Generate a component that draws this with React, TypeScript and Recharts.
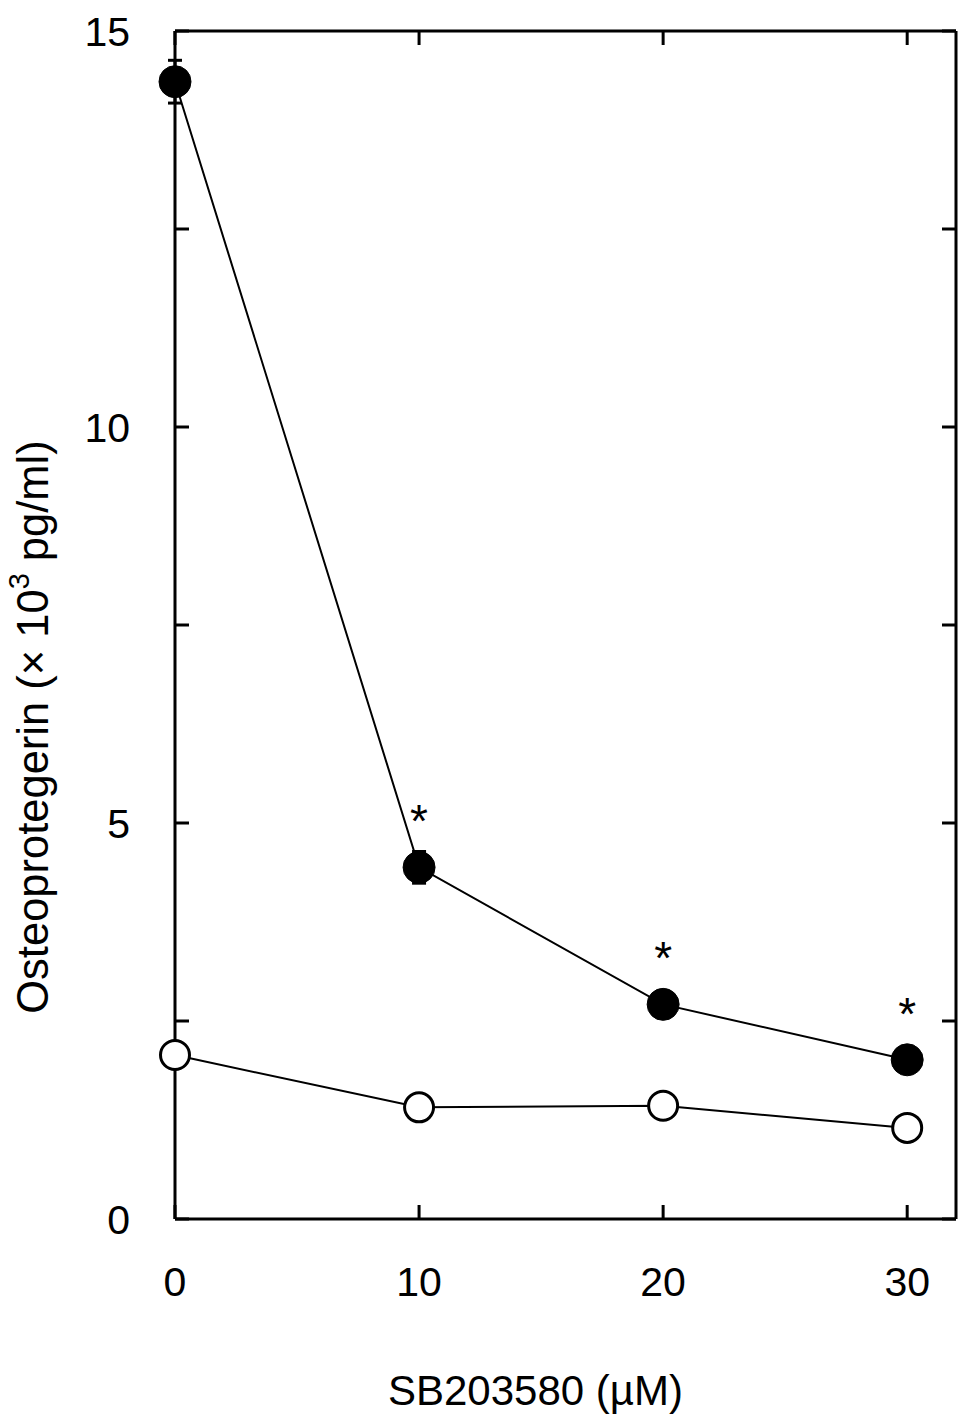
import React from 'react';
import { LineChart, Line, XAxis, YAxis, ErrorBar, LabelList, Label } from 'recharts';

const doses = [0, 10, 20, 30];
const withStim = [14.36, 4.44, 2.71, 2.01];
const withStimErr = [0.27, 0.2, 0.1, 0.1];
const withStimSig = ['', '*', '*', '*'];
const control = [2.07, 1.41, 1.43, 1.15];
const xTicks = [0, 10, 20, 30];
const yTicks = [0, 2.5, 5, 7.5, 10, 12.5, 15];
const yLabelTicks = [0, 5, 10, 15];

const data = doses.map((d, i) => ({
  dose: d,
  stim: withStim[i],
  stimErr: withStimErr[i],
  sig: withStimSig[i],
  ctrl: control[i],
}));

const FONT = 'Liberation Sans, Arial, sans-serif';

const BottomTick = (props: any) => {
  const { x, y, payload } = props;
  return (
    <text x={x} y={y} dy="0.75em" textAnchor="middle" fontFamily={FONT} fontSize={41} fill="#000">
      {payload.value}
    </text>
  );
};

const LeftTick = (props: any) => {
  const { x, y, payload } = props;
  if (!yLabelTicks.includes(payload.value)) return <g />;
  return (
    <text x={x} y={y} dy="0.36em" textAnchor="end" fontFamily={FONT} fontSize={41} fill="#000">
      {payload.value}
    </text>
  );
};

const EmptyTick = () => <g />;

const YLabel = (props: any) => {
  const vb = props.viewBox;
  const cx = vb.x + 33;
  const cy = vb.y + vb.height - 492;
  return (
    <text
      x={cx}
      y={cy}
      transform={`rotate(-90 ${cx} ${cy})`}
      textAnchor="middle"
      dominantBaseline="central"
      fontFamily={FONT}
      fontSize={43.5}
      fill="#000"
    >
      <tspan>Osteoprotegerin (× 10</tspan>
      <tspan dy={-14} fontSize={29}>3</tspan>
      <tspan dy={14}> pg/ml)</tspan>
    </text>
  );
};

const XLabel = (props: any) => {
  const vb = props.viewBox;
  const cx = vb.x + vb.width / 2 - 30;
  const cy = vb.y + 186;
  return (
    <text x={cx} y={cy} textAnchor="middle" fontFamily={FONT} fontSize={42} fill="#000">
      SB203580 (µM)
    </text>
  );
};

const Star = (props: any) => {
  const { x, y, value } = props;
  if (!value) return null;
  return (
    <text x={x} y={y - 30} textAnchor="middle" fontFamily={FONT} fontSize={46} fill="#000">
      {value}
    </text>
  );
};

const axisStroke = { stroke: '#000', strokeWidth: 3 };

export default function App() {
  return (
    <div style={{ position: 'absolute', left: 0, top: 0, background: '#fff' }}>
      <LineChart width={969} height={1427} data={data} margin={{ top: 30, right: 12, bottom: 0, left: 0 }}>
        <XAxis
          xAxisId="b"
          dataKey="dose"
          type="number"
          domain={[0, 32]}
          ticks={xTicks}
          height={208}
          axisLine={axisStroke}
          tickLine={axisStroke}
          tickSize={-14}
          tickMargin={60}
          tick={<BottomTick />}
          interval={0}
        >
          <Label content={<XLabel />} />
        </XAxis>
        <XAxis
          xAxisId="t"
          orientation="top"
          dataKey="dose"
          type="number"
          domain={[0, 32]}
          ticks={xTicks}
          height={1}
          axisLine={axisStroke}
          tickLine={axisStroke}
          tickSize={-14}
          tick={<EmptyTick />}
          interval={0}
        />
        <YAxis
          yAxisId="l"
          type="number"
          domain={[0, 15]}
          ticks={yTicks}
          width={175}
          axisLine={axisStroke}
          tickLine={axisStroke}
          tickSize={-14}
          tickMargin={59}
          tick={<LeftTick />}
          interval={0}
        >
          <Label content={<YLabel />} />
        </YAxis>
        <YAxis
          yAxisId="r"
          orientation="right"
          type="number"
          domain={[0, 15]}
          ticks={yTicks}
          width={1}
          axisLine={axisStroke}
          tickLine={axisStroke}
          tickSize={-14}
          tick={<EmptyTick />}
          interval={0}
        />
        <Line
          xAxisId="t"
          yAxisId="r"
          dataKey="ctrl"
          stroke="#000"
          strokeWidth={2}
          isAnimationActive={false}
          dot={{ r: 14.5, fill: '#fff', stroke: '#000', strokeWidth: 3 }}
          activeDot={false}
        />
        <Line
          xAxisId="b"
          yAxisId="l"
          dataKey="stim"
          stroke="#000"
          strokeWidth={2}
          isAnimationActive={false}
          dot={{ r: 16, fill: '#000', stroke: '#000', strokeWidth: 1 }}
          activeDot={false}
        >
          <ErrorBar dataKey="stimErr" width={7} stroke="#000" strokeWidth={3} direction="y" />
          <LabelList dataKey="sig" content={<Star />} />
        </Line>
      </LineChart>
    </div>
  );
}
